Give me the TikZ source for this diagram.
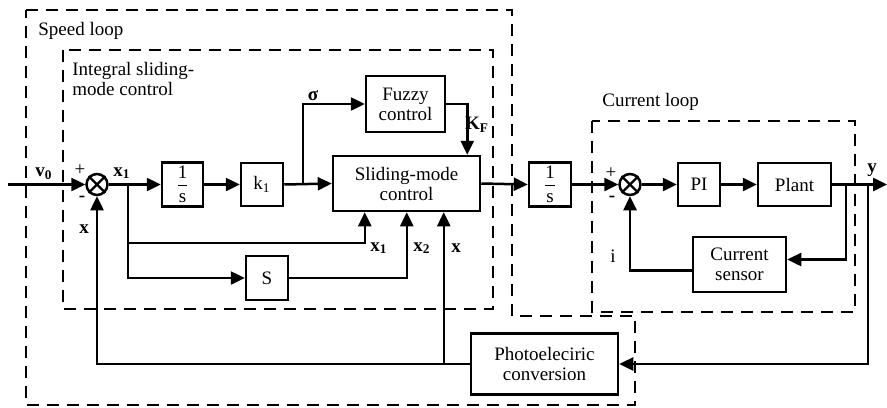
\documentclass[tikz,border=0pt]{standalone}
\usepackage{fontspec}
\setmainfont{Liberation Serif}
\usetikzlibrary{arrows.meta,calc}
\newcommand{\sumcross}[1]{\draw[line width=1.2pt] (#1.north west)--(#1.south east) (#1.north east)--(#1.south west);}
\begin{document}
\begin{tikzpicture}[x=0.5pt,y=-0.5pt,
  font=\fontsize{9.5}{10}\selectfont,
  blk/.style 2 args={draw,rectangle,line width=1.25pt,inner sep=0pt,minimum width=#1*0.5pt,minimum height=#2*0.5pt,align=center},
  sumnode/.style={draw,circle,line width=1.25pt,inner sep=0pt,minimum size=10.5pt},
  conn/.style={line width=1.25pt,-{Triangle[length=7pt,width=6.5pt]}},
  zone/.style={line width=1.4pt,dash pattern=on 6pt off 4pt},
  lbl/.style={inner sep=0pt,font=\fontsize{9.5}{10}\selectfont\bfseries},
  ttl/.style={inner sep=0pt,align=left,anchor=west}]
\useasboundingbox (0,0) rectangle (887,407);

% dashed zones
\draw[zone] (26,10) -- (512,10) -- (512,316) -- (635,316) -- (635,405) -- (26,405) -- cycle;
\draw[zone] (63,50) rectangle (493,309);
\draw[zone] (592,121) rectangle (855,312);
\node[ttl] (tspeed) at (38,31) {Speed loop};
\node[ttl] (tismc) at (72,79) {Integral sliding-\\mode control};
\node[ttl] (tcur) at (602,102) {Current loop};

% blocks
\node[sumnode] (s1) at (97,184.5) {};
\sumcross{s1}
\node[blk={41}{44}] (int1) at (182.5,184.5) {$\displaystyle\frac{\hbox{1}}{\hbox{s}}$};
\node[blk={42}{43}] (k1) at (262,184.5) {k\textsubscript{1}};
\node[blk={79}{56}] (fuzzy) at (405.5,104) {Fuzzy\\control};
\node[blk={147}{55}] (smc) at (406.5,183.5) {Sliding-mode\\control};
\node[blk={42}{44}] (S) at (267,278) {S};
\node[blk={42}{44}] (int2) at (550,184.5) {$\displaystyle\frac{\hbox{1}}{\hbox{s}}$};
\node[sumnode] (s2) at (630,184.5) {};
\sumcross{s2}
\node[blk={42}{43}] (PI) at (699,184.5) {PI};
\node[blk={73}{43}] (plant) at (794.5,184.5) {Plant};
\node[blk={93}{55}] (sensor) at (739.5,264.5) {Current\\sensor};
\node[blk={147}{61}] (photo) at (544.5,364) {Photoeleciric\\conversion};

% helper coordinates
\coordinate (vin) at (8,184.5);
\coordinate (b1) at (128,184.5);
\coordinate (b2) at (303,184.5);
\coordinate (in1) at ([xshift=16.5pt]smc.south west);
\coordinate (in2) at ([xshift=37.5pt]smc.south west);
\coordinate (in3) at ([xshift=56pt]smc.south west);
\coordinate (kfin) at ([xshift=-7pt]smc.north east);
\coordinate (rowx1) at (0,243);
\coordinate (b3) at (846,184.5);
\coordinate (yb) at (868,184.5);
\coordinate (out) at (887,184.5);

% connectors
\draw[conn] (vin) -- (s1.west);
\draw[conn] (s1.east) -- (int1.west);
\draw[conn] (int1.east) -- (k1.west);
\draw[conn] (k1.east) -- (smc.west);
\draw[conn] (b2) |- (fuzzy.west);
\draw[conn] (fuzzy.east) -| (kfin);
\draw[conn] (b1) |- (S.west);
\draw[conn] (b1) |- (rowx1 -| in1) -- (in1);
\draw[conn] (S.east) -| (in2);
\draw[conn] (photo.west) -| (s1.south);
\draw[conn] (photo.west -| in3) -- (in3);
\draw[conn] (smc.east) -- (int2.west);
\draw[conn] (int2.east) -- (s2.west);
\draw[conn] (s2.east) -- (PI.west);
\draw[conn] (PI.east) -- (plant.west);
\draw[conn] (plant.east) -- (out);
\draw[conn] (b3) |- ([yshift=2.5pt]sensor.east);
\draw[conn] ([yshift=-3pt]sensor.west) -| (s2.south);
\draw[conn] (yb) |- (photo.east);

% signal labels
\node[lbl] (lv0) at (44,174) {v\textsubscript{0}};
\node[inner sep=0pt] (lp1) at (80,170) {+};
\node[lbl] (lm1) at (82,199) {-};
\node[lbl] (lx) at (84,229) {x};
\node[lbl] (lx1a) at (122,173) {x\textsubscript{1}};
\node[lbl] (lsig) at (313,96) {σ};
\node[lbl] (lkf) at (477,125) {K\textsubscript{F}};
\node[lbl] (lx1b) at (379,248) {x\textsubscript{1}};
\node[lbl] (lx2) at (422,248) {x\textsubscript{2}};
\node[lbl] (lxb) at (456,248) {x};
\node[inner sep=0pt] (lp2) at (611,173) {+};
\node[lbl] (lm2) at (612,199) {-};
\node[inner sep=0pt] (li) at (613,256) {i};
\node[lbl] (ly) at (872,170) {y};
\end{tikzpicture}
\end{document}
